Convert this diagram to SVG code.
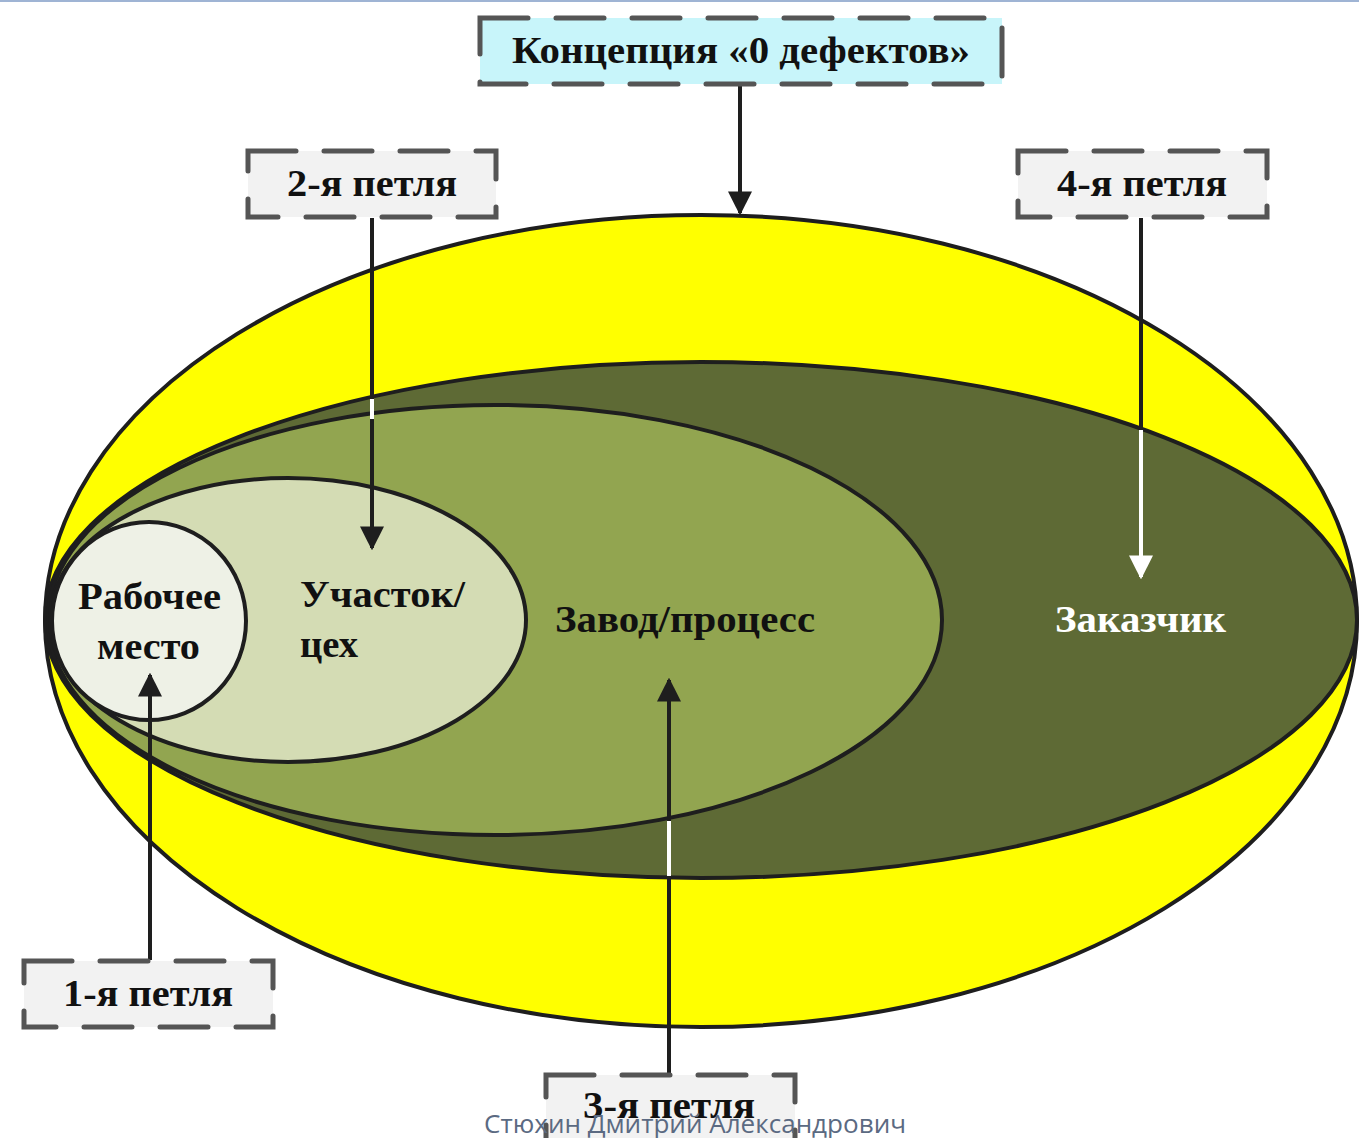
<svg xmlns="http://www.w3.org/2000/svg" width="1359" height="1138" viewBox="0 0 1359 1138">
<defs>
<style>
.ell{stroke:#1e1e1e;stroke-width:4}
.box{stroke:#555;stroke-width:5;stroke-dasharray:48 28;stroke-linecap:round;fill:#f2f2f2}
.t{font-family:"Liberation Serif","Times New Roman",serif;font-weight:bold;font-size:37px;fill:#111}
.lbl{font-family:"Liberation Serif","Times New Roman",serif;font-weight:bold;font-size:37px;fill:#111;text-anchor:middle}
.blk{stroke:#1e1e1e;stroke-width:4;fill:none}
.wht{stroke:#ffffff;stroke-width:4;fill:none}
</style>
<marker id="ab" viewBox="0 0 10 10" refX="9" refY="5" markerWidth="6" markerHeight="6" markerUnits="strokeWidth" orient="auto"><path d="M0,0 L10,5 L0,10 z" fill="#1e1e1e"/></marker>
<marker id="aw" viewBox="0 0 10 10" refX="9" refY="5" markerWidth="6" markerHeight="6" markerUnits="strokeWidth" orient="auto"><path d="M0,0 L10,5 L0,10 z" fill="#ffffff"/></marker>
</defs>
<rect x="0" y="0" width="1359" height="1138" fill="#ffffff"/>
<rect x="0" y="0" width="1359" height="2" fill="#9fb4d4"/>

<g id="customer">
<ellipse class="ell" cx="701" cy="621" rx="656" ry="406" fill="#ffff00"/>
<ellipse class="ell" cx="701" cy="620" rx="656" ry="258" fill="#5e6a35"/>
<text class="t" x="1055" y="632" textLength="171" lengthAdjust="spacingAndGlyphs" style="fill:#ffffff">Заказчик</text>
</g>
<g id="plant">
<ellipse class="ell" cx="495" cy="620" rx="447" ry="215" fill="#92a550"/>
<text class="t" x="555" y="632" textLength="260" lengthAdjust="spacingAndGlyphs">Завод/процесс</text>
</g>
<g id="shop">
<ellipse class="ell" cx="288" cy="620" rx="238" ry="142" fill="#d4dcb4"/>
<text class="t" x="300" y="607" textLength="165" lengthAdjust="spacingAndGlyphs">Участок/</text>
<text class="t" x="300" y="657" textLength="58" lengthAdjust="spacingAndGlyphs">цех</text>
</g>
<g id="workplace">
<ellipse class="ell" cx="149" cy="621" rx="97" ry="99" fill="#eef1e6"/>
<text class="t" x="78" y="609" textLength="143" lengthAdjust="spacingAndGlyphs">Рабочее</text>
<text class="t" x="97" y="659" textLength="103" lengthAdjust="spacingAndGlyphs">место</text>
</g>

<g id="connectors">
<line class="blk" x1="740" y1="84" x2="740" y2="213" marker-end="url(#ab)"/>
<line class="blk" x1="372" y1="218" x2="372" y2="548" marker-end="url(#ab)"/>
<line class="wht" x1="372" y1="399" x2="372" y2="419"/>
<line class="blk" x1="669" y1="1073" x2="669" y2="680" marker-end="url(#ab)"/>
<line class="wht" x1="669" y1="821" x2="669" y2="876"/>
<line class="blk" x1="1141" y1="218" x2="1141" y2="430"/>
<line class="wht" x1="1141" y1="430" x2="1141" y2="577" marker-end="url(#aw)"/>
<line class="blk" x1="150" y1="960" x2="150" y2="675" marker-end="url(#ab)"/>
</g>

<g id="concept">
<rect class="box" x="480" y="18" width="522" height="66" style="fill:#c8f5fa"/>
<text class="t" x="512" y="63" textLength="458" lengthAdjust="spacingAndGlyphs">Концепция «0 дефектов»</text>
</g>
<g id="loop2">
<rect class="box" x="248" y="151" width="248" height="66"/>
<text class="t" x="287" y="196" textLength="170" lengthAdjust="spacingAndGlyphs">2-я петля</text>
</g>
<g id="loop4">
<rect class="box" x="1018" y="151" width="249" height="66"/>
<text class="t" x="1057" y="196" textLength="170" lengthAdjust="spacingAndGlyphs">4-я петля</text>
</g>
<g id="loop1">
<rect class="box" x="24" y="961" width="249" height="66"/>
<text class="t" x="63" y="1006" textLength="170" lengthAdjust="spacingAndGlyphs">1-я петля</text>
</g>
<g id="loop3">
<rect class="box" x="546" y="1075" width="249" height="66"/>
<text class="t" x="583" y="1118" textLength="172" lengthAdjust="spacingAndGlyphs">3-я петля</text>
</g>
<text x="484" y="1133" font-family="'Open Sans','Noto Sans',sans-serif" font-size="25" fill="#5b6a82" textLength="422" lengthAdjust="spacingAndGlyphs">Стюхин Дмитрий Александрович</text>
</svg>
